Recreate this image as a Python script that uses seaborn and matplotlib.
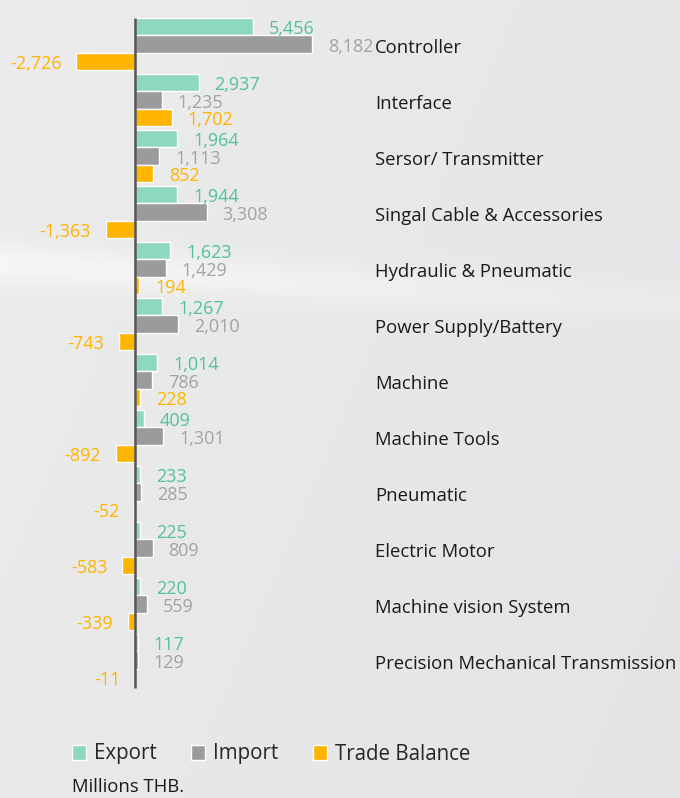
import numpy as np
import pandas as pd
import matplotlib
matplotlib.use("Agg")
import matplotlib.pyplot as plt
import matplotlib.transforms as mtransforms
import seaborn as sns

# chart values (Millions THB.)
categories = ["Controller", "Interface", "Sersor/ Transmitter", "Singal Cable & Accessories",
              "Hydraulic & Pneumatic", "Power Supply/Battery", "Machine", "Machine Tools",
              "Pneumatic", "Electric Motor", "Machine vision System",
              "Precision Mechanical Transmission"]
export_vals = [5456, 2937, 1964, 1944, 1623, 1267, 1014, 409, 233, 225, 220, 117]
import_vals = [8182, 1235, 1113, 3308, 1429, 2010, 786, 1301, 285, 809, 559, 129]
balance_vals = [-2726, 1702, 852, -1363, 194, -743, 228, -892, -52, -583, -339, -11]
series_names = ["Export", "Import", "Trade Balance"]

bar_colors = ["#8ed8c2", "#9b9b9d", "#ffb400"]
text_colors = ["#52c19c", "#a3a3a5", "#ffb400"]

sns.set_theme(style="white")
plt.rcParams["font.family"] = ["Open Sans", "DejaVu Sans"]

df = pd.DataFrame({"category": categories * 3,
                   "value": export_vals + import_vals + balance_vals,
                   "series": np.repeat(series_names, len(categories))})

fig = plt.figure(figsize=(6.8, 7.98), dpi=100)

# soft grey background with a faint light streak
bg = fig.add_axes([0, 0, 1, 1], zorder=0)
yy, xx = np.mgrid[0:1:400j, 0:1:340j]
base = 0.915 - 0.02 * xx + 0.01 * (1 - yy)
streak = 0.045 * np.exp(-((yy - (0.33 + 0.05 * xx)) / 0.025) ** 2) * (1 - 0.6 * xx)
lum = base + streak
img = np.dstack([lum - 0.004 * xx, lum, lum + 0.008 * xx]).clip(0, 1)
bg.imshow(img, aspect="auto", extent=[0, 1, 0, 1])
bg.axis("off")

ax = fig.add_axes([0, 0, 1, 1], zorder=1)
ax.patch.set_alpha(0)

sns.barplot(data=df, y="category", x="value", hue="series", hue_order=series_names,
            palette=bar_colors, orient="h", width=0.93, saturation=1,
            errorbar=None, ax=ax)

scale = 177 / 8182  # px per unit
ax.set_xlim(-135 / scale, (680 - 135) / scale)
ax.set_ylim((798 - 44) / 56, -44 / 56)

for cont, tcol in zip(ax.containers, text_colors):
    for rect in cont:
        v = rect.get_width()
        yc = rect.get_y() + rect.get_height() / 2
        if v >= 0:
            ax.annotate(f"{v:,.0f}", (v, yc), xytext=(11.5, -2), textcoords="offset points",
                        ha="left", va="center", color=tcol, fontsize=13)
        else:
            ax.annotate(f"{v:,.0f}", (v, yc), xytext=(-10.5, -2), textcoords="offset points",
                        ha="right", va="center", color=tcol, fontsize=13)

ax.vlines(0, -0.465, 11.5, color="#555555", lw=1.8, zorder=5)

trans = mtransforms.blended_transform_factory(ax.transAxes, ax.transData)
offset = mtransforms.ScaledTranslation(0, -3 / 72, fig.dpi_scale_trans)
for i, c in enumerate(categories):
    ax.text(375 / 680, i, c, transform=trans + offset, ha="left", va="center",
            fontsize=13.3, color="#1a1a1a")

ax.set_xlabel("")
ax.set_ylabel("")
ax.set_xticks([])
ax.set_yticks([])
sns.despine(ax=ax, left=True, bottom=True)

sns.move_legend(ax, "center left", bbox_to_anchor=(53 / 680, 1 - 754 / 798), ncol=3,
                frameon=False, title=None, fontsize=14.8, handlelength=0.7,
                handleheight=0.7, handletextpad=0.4, columnspacing=1.65)

fig.text(72 / 680, 1 - 778 / 798, "Millions THB.", ha="left", va="top",
         fontsize=13.3, color="#1a1a1a")

fig.savefig("out.png", dpi=100)
